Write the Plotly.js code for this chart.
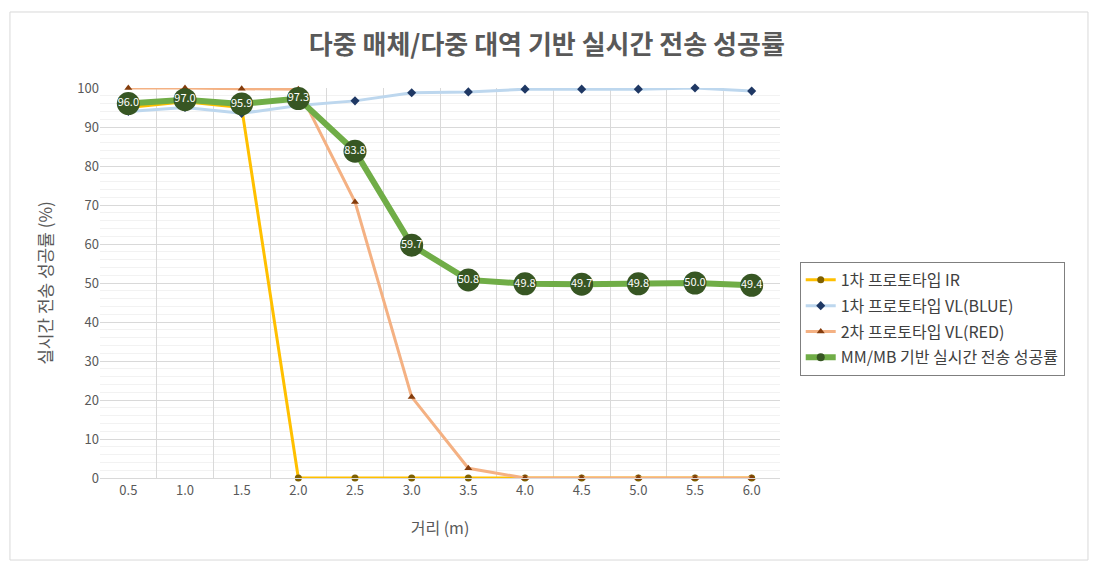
<!DOCTYPE html>
<html>
<head>
<meta charset="utf-8">
<script src="https://cdn.plot.ly/plotly-3.0.1.min.js"></script>
<style>html,body{margin:0;padding:0;background:#fff;}#chart{width:1098px;height:566px;}</style>
</head>
<body>
<div id="chart"></div>
<script>
const distances = ['0.5','1.0','1.5','2.0','2.5','3.0','3.5','4.0','4.5','5.0','5.5','6.0'];
const irValues   = [95.0, 96.5, 95.0, 0, 0, 0, 0, 0, 0, 0, 0, 0];
const blueValues = [94.0, 95.0, 93.5, 95.5, 96.7, 98.8, 99.0, 99.7, 99.7, 99.7, 100.0, 99.2];
const redValues  = [100.0, 100.0, 99.8, 99.7, 70.8, 20.8, 2.5, 0, 0, 0, 0, 0];
const mmValues   = [96.0, 97.0, 95.9, 97.3, 83.8, 59.7, 50.8, 49.8, 49.7, 49.8, 50.0, 49.4];
const seriesNames = ['1차 프로토타입 IR', '1차 프로토타입 VL(BLUE)', '2차 프로토타입 VL(RED)', 'MM/MB 기반 실시간 전송 성공률'];

const FONT = '"Noto Sans CJK KR", "Noto Sans", sans-serif';

const traces = [
  {x: distances, y: irValues, name: seriesNames[0], legendgroup: 'g1', type: 'scatter', mode: 'lines+markers',
   line: {color: '#FFC000', width: 3}, marker: {color: '#7F6000', size: 7, symbol: 'circle'}, cliponaxis: false},
  {x: distances, y: blueValues, name: seriesNames[1], legendgroup: 'g2', type: 'scatter', mode: 'lines+markers',
   line: {color: '#BDD7EE', width: 3}, marker: {color: '#1F3864', size: 7, symbol: 'diamond'}, cliponaxis: false},
  {x: distances, y: redValues, name: seriesNames[2], legendgroup: 'g3', type: 'scatter', mode: 'lines+markers',
   line: {color: '#F4B183', width: 3}, marker: {color: '#843C0C', size: 7, symbol: 'triangle-up'}, cliponaxis: false},
  {x: distances, y: mmValues, name: seriesNames[3], legendgroup: 'g4', showlegend: false, type: 'scatter', mode: 'lines+markers+text',
   text: mmValues.map(v => v.toFixed(1)), textposition: 'middle center',
   textfont: {color: '#ffffff', size: 11, family: FONT},
   line: {color: '#70AD47', width: 6}, marker: {color: '#375623', size: 23, symbol: 'circle'}, cliponaxis: false},
  // legend entry for the MM/MB series (small marker like the original legend)
  {x: [distances[0]], y: [null], name: seriesNames[3], legendgroup: 'g4', type: 'scatter', mode: 'lines+markers',
   line: {color: '#70AD47', width: 6}, marker: {color: '#375623', size: 8, symbol: 'circle'}, hoverinfo: 'skip'}
];

const layout = {
  width: 1098, height: 566,
  margin: {l: 100, r: 318, t: 88, b: 88},
  paper_bgcolor: '#ffffff', plot_bgcolor: '#ffffff',
  font: {family: FONT, color: '#595959', size: 13},
  title: {text: '<b>다중 매체/다중 대역 기반 실시간 전송 성공률</b>', font: {size: 26, color: '#595959', family: FONT},
          xref: 'container', yref: 'container', x: 0.498, y: 0.92, xanchor: 'center', yanchor: 'middle'},
  showlegend: true,
  legend: {x: 1.029, y: 0.554, xanchor: 'left', yanchor: 'top', bgcolor: '#ffffff', bordercolor: '#7f7f7f', borderwidth: 1,
           font: {size: 16, color: '#404040', family: FONT}, tracegroupgap: 2, itemsizing: 'trace'},
  xaxis: {type: 'category', range: [-0.5, 11.5], tickson: 'boundaries', showgrid: true, gridcolor: '#d9d9d9', gridwidth: 1,
          showline: true, linecolor: '#d9d9d9', ticks: '', zeroline: false,
          tickfont: {size: 13, color: '#595959'},
          title: {text: '거리 (m)', font: {size: 16, color: '#595959'}, standoff: 25}},
  yaxis: {range: [0, 100], dtick: 10, showgrid: true, gridcolor: '#d9d9d9', gridwidth: 1, zeroline: false,
          showline: false, ticks: '', tickfont: {size: 13, color: '#595959'},
          minor: {dtick: 2, showgrid: true, gridcolor: '#f2f2f2', gridwidth: 1},
          title: {text: '실시간 전송 성공률 (%)', font: {size: 17, color: '#595959'}, standoff: 20}},
  shapes: [
    {type: 'rect', xref: 'paper', yref: 'paper', x0: -0.1324, x1: 1.4529, y0: -0.2103, y1: 1.1949,
     line: {color: '#d9d9d9', width: 1}, fillcolor: 'rgba(0,0,0,0)', layer: 'below'}
  ]
};

Plotly.newPlot('chart', traces, layout, {displayModeBar: false, staticPlot: true});
</script>
</body>
</html>
